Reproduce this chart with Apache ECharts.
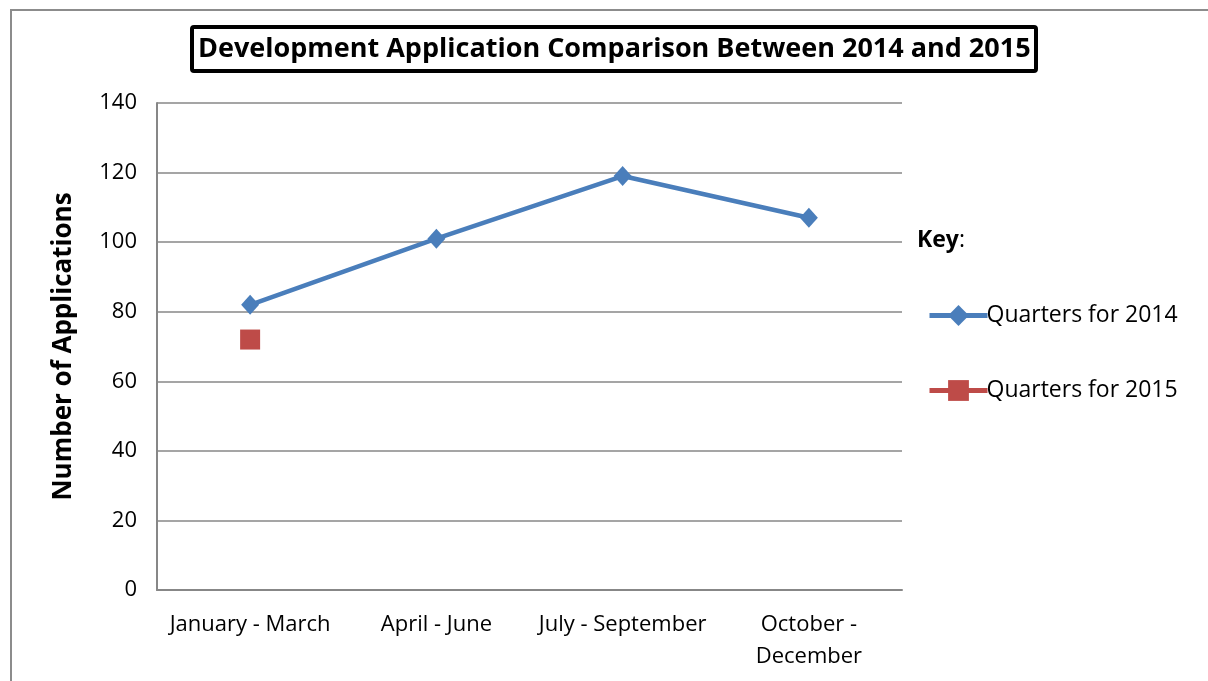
<!DOCTYPE html>
<html>
<head>
<meta charset="utf-8">
<script src="https://cdn.jsdelivr.net/npm/echarts@6/dist/echarts.min.js"></script>
<style>
  html, body { margin: 0; padding: 0; background: #fff; }
  #chart_main { width: 1208px; height: 681px; }
</style>
</head>
<body>
<div id="chart_main"></div>
<script>
var quarters = ['January - March', 'April - June', 'July - September', 'October -\nDecember'];
var apps_2014 = [82, 101, 119, 107];
var apps_2015 = [72, null, null, null];
var fontsty = 'Open Sans';

var myChart = echarts.init(document.getElementById('chart_main'));
var option = {
  animation: false,
  title: {
    text: 'Development Application Comparison Between 2014 and 2015',
    left: 192,
    top: 27,
    padding: [6, 6, 6, 6],
    borderColor: '#000',
    borderWidth: 4,
    borderRadius: 2,
    textStyle: {
      fontSize: 27,
      lineHeight: 32,
      fontWeight: 'bold',
      color: '#000',
      fontFamily: fontsty
    }
  },
  graphic: [
    {
      type: 'rect',
      shape: { x: 11, y: 10, width: 1220, height: 700 },
      style: { fill: 'none', stroke: '#8c8c8c', lineWidth: 2 },
      silent: true
    },
    {
      type: 'text',
      left: 917,
      top: 229,
      style: {
        text: '{b|Key}:',
        rich: { b: { fontWeight: 'bold', fontSize: 23, fontFamily: fontsty } },
        fontSize: 23,
        fontFamily: fontsty,
        fill: '#000'
      }
    }
  ],
  grid: {
    left: 157,
    right: 306,
    top: 103,
    bottom: 91
  },
  legend: {
    orient: 'vertical',
    left: 922,
    top: 299,
    itemWidth: 58,
    itemHeight: 26,
    itemGap: 52,
    lineStyle: { width: 5 },
    textStyle: {
      fontSize: 23,
      color: '#000',
      fontFamily: fontsty,
      padding: [0, 0, 0, -6]
    },
    data: ['Quarters for 2014', 'Quarters for 2015']
  },
  xAxis: {
    type: 'category',
    data: quarters,
    boundaryGap: true,
    axisLine: { lineStyle: { color: '#878787', width: 2 } },
    axisTick: { show: false },
    axisLabel: {
      interval: 0,
      margin: 19,
      fontSize: 22,
      lineHeight: 32,
      color: '#000',
      fontFamily: fontsty
    }
  },
  yAxis: {
    type: 'value',
    min: 0,
    max: 140,
    interval: 20,
    name: 'Number of Applications',
    nameLocation: 'middle',
    nameGap: 80,
    nameTextStyle: {
      fontSize: 26,
      fontWeight: 'bold',
      color: '#000',
      fontFamily: fontsty
    },
    axisLine: { show: true, lineStyle: { color: '#878787', width: 2 } },
    axisTick: { show: false },
    splitLine: { lineStyle: { color: '#878787', width: 1.5 } },
    axisLabel: {
      margin: 20,
      fontSize: 22,
      color: '#000',
      fontFamily: fontsty
    }
  },
  series: [
    {
      name: 'Quarters for 2014',
      type: 'line',
      data: apps_2014,
      symbol: 'diamond',
      symbolSize: [18, 20],
      itemStyle: { color: '#4a7ebb' },
      lineStyle: { color: '#4a7ebb', width: 4.5 }
    },
    {
      name: 'Quarters for 2015',
      type: 'line',
      data: apps_2015,
      symbol: 'rect',
      symbolSize: 20,
      itemStyle: { color: '#be4b48' },
      lineStyle: { color: '#be4b48', width: 4.5 }
    }
  ]
};
myChart.setOption(option);
</script>
</body>
</html>
